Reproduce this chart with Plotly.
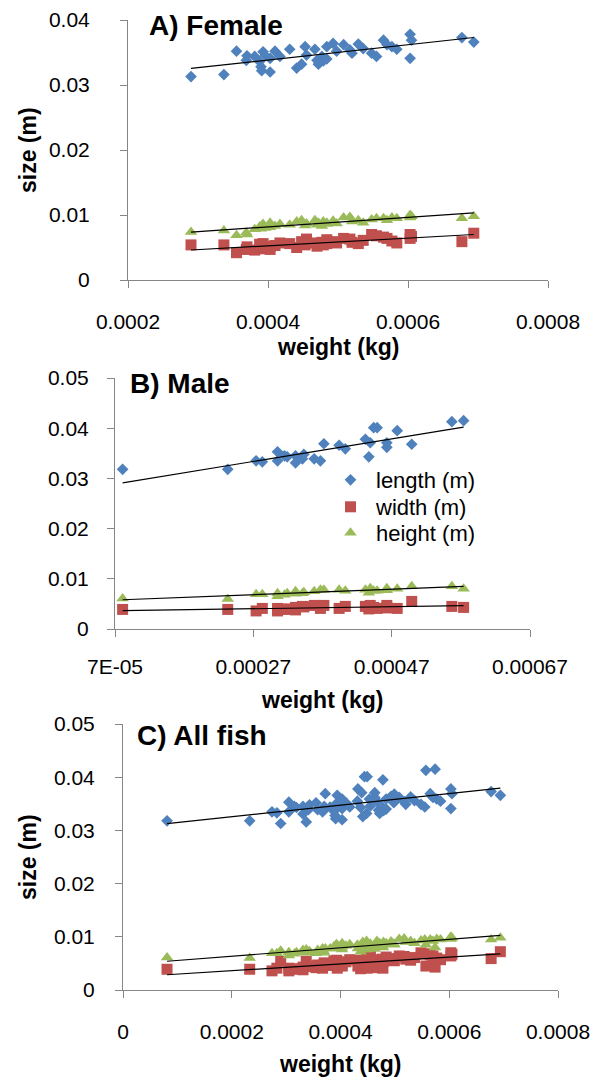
import numpy as np
import plotly.graph_objects as go

# ---- Female fish: weight (kg) and body measurements (m) ----
female_weight = [0.000290, 0.000337, 0.000355, 0.000369, 0.000370, 0.000381, 0.000388, 0.000390,
                 0.000391, 0.000393, 0.000396, 0.000403, 0.000403, 0.000410, 0.000417, 0.000431,
                 0.000441, 0.000448, 0.000453, 0.000455, 0.000467, 0.000470, 0.000472, 0.000477,
                 0.000479, 0.000484, 0.000484, 0.000493, 0.000498, 0.000508, 0.000517, 0.000520,
                 0.000529, 0.000536, 0.000548, 0.000555, 0.000565, 0.000570, 0.000577, 0.000584,
                 0.000603, 0.000603, 0.000605, 0.000677, 0.000694]
female_length = [0.0313, 0.0316, 0.0352, 0.0338, 0.0345, 0.0344, 0.0336, 0.0328,
                 0.0322, 0.0351, 0.0345, 0.0341, 0.0320, 0.0352, 0.0344, 0.0355,
                 0.0326, 0.0332, 0.0359, 0.0346, 0.0355, 0.0338, 0.0332, 0.0344,
                 0.0337, 0.0359, 0.0340, 0.0364, 0.0352, 0.0362, 0.0354, 0.0349,
                 0.0363, 0.0356, 0.0349, 0.0344, 0.0369, 0.0362, 0.0359, 0.0355,
                 0.0378, 0.0341, 0.0369, 0.0373, 0.0366]
female_width = [0.0054, 0.0054, 0.0042, 0.0047, 0.0051, 0.0046, 0.0055, 0.0048,
                0.0050, 0.0056, 0.0049, 0.0052, 0.0047, 0.0053, 0.0057, 0.0056,
                0.0050, 0.0059, 0.0054, 0.0063, 0.0057, 0.0052, 0.0055, 0.0058,
                0.0054, 0.0062, 0.0056, 0.0059, 0.0057, 0.0064, 0.0063, 0.0058,
                0.0056, 0.0061, 0.0070, 0.0068, 0.0066, 0.0064, 0.0060, 0.0057,
                0.0070, 0.0064, 0.0067, 0.0059, 0.0072]
female_height = [0.0074, 0.0076, 0.0069, 0.0073, 0.0070, 0.0078, 0.0082, 0.0079,
                 0.0084, 0.0086, 0.0080, 0.0088, 0.0081, 0.0083, 0.0086, 0.0085,
                 0.0090, 0.0092, 0.0084, 0.0087, 0.0092, 0.0085, 0.0088, 0.0083,
                 0.0090, 0.0088, 0.0086, 0.0091, 0.0087, 0.0096, 0.0097, 0.0090,
                 0.0092, 0.0088, 0.0093, 0.0095, 0.0095, 0.0092, 0.0096, 0.0095,
                 0.0100, 0.0096, 0.0098, 0.0095, 0.0098]

# ---- Male fish ----
male_weight = [0.000081, 0.000233, 0.000274, 0.000283, 0.000305, 0.000305, 0.000315, 0.000319,
               0.000331, 0.000331, 0.000341, 0.000343, 0.000358, 0.000367, 0.000372, 0.000394,
               0.000403, 0.000432, 0.000437, 0.000439, 0.000444, 0.000449, 0.000463, 0.000463,
               0.000478, 0.000499, 0.000557, 0.000574]
male_length = [0.0318, 0.0318, 0.0335, 0.0333, 0.0353, 0.0335, 0.0345, 0.0343,
               0.0345, 0.0331, 0.0339, 0.0348, 0.0339, 0.0335, 0.0369, 0.0366,
               0.0359, 0.0378, 0.0343, 0.0371, 0.0401, 0.0401, 0.0371, 0.0362,
               0.0395, 0.0368, 0.0413, 0.0415]
male_width = [0.0039, 0.0039, 0.0036, 0.0041, 0.0036, 0.0041, 0.0039, 0.0040,
              0.0043, 0.0038, 0.0045, 0.0044, 0.0047, 0.0041, 0.0047, 0.0041,
              0.0045, 0.0045, 0.0040, 0.0047, 0.0043, 0.0041, 0.0047, 0.0042,
              0.0041, 0.0055, 0.0045, 0.0043]
male_height = [0.0061, 0.0060, 0.0069, 0.0069, 0.0071, 0.0065, 0.0068, 0.0071,
               0.0075, 0.0070, 0.0071, 0.0073, 0.0075, 0.0078, 0.0078, 0.0078,
               0.0076, 0.0078, 0.0072, 0.0081, 0.0076, 0.0076, 0.0081, 0.0077,
               0.0080, 0.0085, 0.0085, 0.0080]

# ---- All fish = female + male ----
all_weight = female_weight + male_weight
all_length = female_length + male_length
all_width = female_width + male_width
all_height = female_height + male_height

series_names = ["length (m)", "width (m)", "height (m)"]
series_colors = ["#4F81BD", "#C0504D", "#9BBB59"]
series_symbols = ["diamond", "square", "triangle-up"]
series_sizes = [9, 11, 11]
legend_ids = ["legend", "legend2", "legend3"]

panel_titles = ["A) Female", "B) Male", "C) All fish"]

# axis ticks
xticks_a = [0.0002, 0.0004, 0.0006, 0.0008]
xticktext_a = ["0.0002", "0.0004", "0.0006", "0.0008"]
xticks_b = [0.00007, 0.00027, 0.00047, 0.00067]
xticktext_b = ["7E-05", "0.00027", "0.00047", "0.00067"]
xticks_c = [0, 0.0002, 0.0004, 0.0006, 0.0008]
xticktext_c = ["0", "0.0002", "0.0004", "0.0006", "0.0008"]
yticks_a = [0, 0.01, 0.02, 0.03, 0.04]
yticktext_a = ["0", "0.01", "0.02", "0.03", "0.04"]
yticks_bc = [0, 0.01, 0.02, 0.03, 0.04, 0.05]
yticktext_bc = ["0", "0.01", "0.02", "0.03", "0.04", "0.05"]

FONT = "Liberation Sans, Arial, sans-serif"
W, H = 600, 1077

fig = go.Figure()

panels = [
    (female_weight, [female_length, female_width, female_height], "x", "y", False),
    (male_weight, [male_length, male_width, male_height], "x2", "y2", True),
    (all_weight, [all_length, all_width, all_height], "x3", "y3", False),
]

for weights, measures, xa, ya, legend in panels:
    wx = np.array(weights)
    for k, vals in enumerate(measures):
        fig.add_trace(go.Scatter(
            x=weights, y=vals, mode="markers", name=series_names[k],
            xaxis=xa, yaxis=ya, showlegend=legend, legend=legend_ids[k],
            marker=dict(symbol=series_symbols[k], size=series_sizes[k],
                        color=series_colors[k], line=dict(width=0)),
        ))
    # linear trendlines
    for k, vals in enumerate(measures):
        slope, icpt = np.polyfit(wx, np.array(vals), 1)
        xs = np.array([wx.min(), wx.max()])
        fig.add_trace(go.Scatter(
            x=xs, y=slope * xs + icpt, mode="lines", xaxis=xa, yaxis=ya,
            showlegend=False, hoverinfo="skip",
            line=dict(color="black", width=1.2),
        ))


def px_dom_x(a, b):
    return [a / W, b / W]


def px_dom_y(top, bottom):
    return [1 - bottom / H, 1 - top / H]


axis_common = dict(
    showline=True, linecolor="#868686", linewidth=1,
    ticks="outside", ticklen=7, tickcolor="#868686", tickwidth=1,
    showgrid=False, zeroline=False, automargin=False,
    tickfont=dict(family=FONT, size=21, color="black"),
)

legend_common = dict(
    xanchor="left", yanchor="middle", bgcolor="rgba(0,0,0,0)",
    font=dict(family=FONT, size=22, color="black"),
    itemwidth=41, borderwidth=0,
)

fig.update_layout(
    width=W, height=H,
    margin=dict(l=0, r=0, t=0, b=0, pad=0, autoexpand=False),
    paper_bgcolor="white", plot_bgcolor="white",
    font=dict(family=FONT, color="black"),
    xaxis=dict(axis_common, domain=px_dom_x(128, 548), range=[0.0002, 0.0008],
               tickvals=xticks_a, ticktext=xticktext_a, anchor="y", ticklabelstandoff=16),
    yaxis=dict(axis_common, domain=px_dom_y(20, 280), range=[0, 0.04],
               tickvals=yticks_a, ticktext=yticktext_a, anchor="x", ticklabelstandoff=26),
    xaxis2=dict(axis_common, domain=px_dom_x(115, 530), range=[0.00007, 0.00067],
                tickvals=xticks_b, ticktext=xticktext_b, anchor="y2", ticklabelstandoff=12),
    yaxis2=dict(axis_common, domain=px_dom_y(378, 629), range=[0, 0.05],
                tickvals=yticks_bc, ticktext=yticktext_bc, anchor="x2", ticklabelstandoff=14),
    xaxis3=dict(axis_common, domain=px_dom_x(123, 558), range=[0, 0.0008],
                tickvals=xticks_c, ticktext=xticktext_c, anchor="y3", ticklabelstandoff=16),
    yaxis3=dict(axis_common, domain=px_dom_y(724, 990), range=[0, 0.05],
                tickvals=yticks_bc, ticktext=yticktext_bc, anchor="x3", ticklabelstandoff=16),
    legend=dict(legend_common, x=325 / W, y=1 - 480 / H),
    legend2=dict(legend_common, x=325 / W, y=1 - 507 / H),
    legend3=dict(legend_common, x=325 / W, y=1 - 533 / H),
)

annotations = [
    # panel titles
    dict(text="<b>" + panel_titles[0] + "</b>", x=147 / W, y=1 - 25 / H, xanchor="left", size=28),
    dict(text="<b>" + panel_titles[1] + "</b>", x=128 / W, y=1 - 383 / H, xanchor="left", size=28),
    dict(text="<b>" + panel_titles[2] + "</b>", x=135 / W, y=1 - 735 / H, xanchor="left", size=28),
    # axis titles
    dict(text="<b>weight (kg)</b>", x=338 / W, y=1 - 347 / H, xanchor="center", size=23),
    dict(text="<b>weight (kg)</b>", x=322 / W, y=1 - 700 / H, xanchor="center", size=23),
    dict(text="<b>weight (kg)</b>", x=340 / W, y=1 - 1064 / H, xanchor="center", size=23),
    dict(text="<b>size (m)</b>", x=28 / W, y=1 - 150 / H, xanchor="center", size=23, angle=-90),
    dict(text="<b>size (m)</b>", x=28 / W, y=1 - 857 / H, xanchor="center", size=23, angle=-90),
]
for a in annotations:
    fig.add_annotation(
        text=a["text"], x=a["x"], y=a["y"], xref="paper", yref="paper",
        xanchor=a["xanchor"], yanchor="middle", showarrow=False,
        textangle=a.get("angle", 0),
        font=dict(family=FONT, size=a["size"], color="black"),
    )

fig.write_html("out.html")
